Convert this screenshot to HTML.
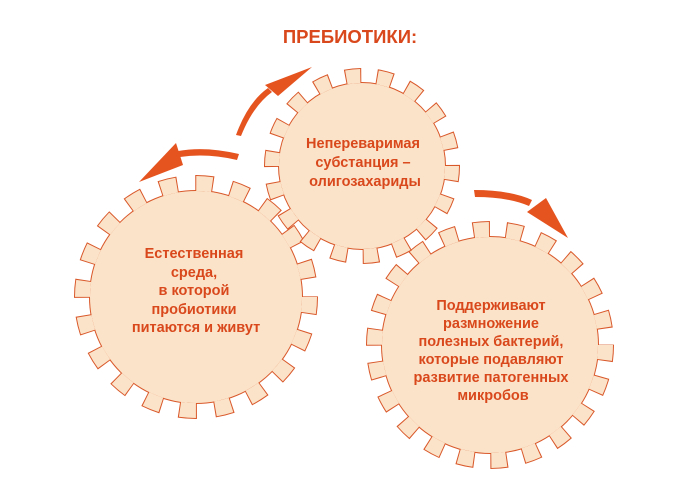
<!DOCTYPE html>
<html><head><meta charset="utf-8"><style>
body{margin:0;background:#fff;}
svg{display:block;}
text{font-family:"Liberation Sans",Arial,sans-serif;font-weight:bold;fill:#d9481c;text-anchor:middle;}
</style></head><body>
<svg width="700" height="487" viewBox="0 0 700 487" xmlns="http://www.w3.org/2000/svg">
<text x="350" y="43" font-size="18.5">ПРЕБИОТИКИ:</text>

<g>
<circle cx="196" cy="297" r="113.5" fill="none" stroke="#d9582a" stroke-width="17" stroke-dasharray="18 17.66" stroke-dashoffset="1"/>
<circle cx="196" cy="297" r="107" fill="#d9582a"/>
<circle cx="196" cy="297" r="113.5" fill="none" stroke="#fbe3c9" stroke-width="15" stroke-dasharray="16 19.66"/>
<circle cx="196" cy="297" r="106" fill="#fbe3c9"/>
</g>
<g>
<circle cx="490" cy="345" r="115.5" fill="none" stroke="#d9582a" stroke-width="17" stroke-dasharray="17 16" stroke-dashoffset="1"/>
<circle cx="490" cy="345" r="109" fill="#d9582a"/>
<circle cx="490" cy="345" r="115.5" fill="none" stroke="#fbe3c9" stroke-width="15" stroke-dasharray="15 18"/>
<circle cx="490" cy="345" r="108" fill="#fbe3c9"/>
</g>
<g>
<circle cx="362" cy="166" r="90" fill="none" stroke="#d9582a" stroke-width="16" stroke-dasharray="16 15.4" stroke-dashoffset="1"/>
<circle cx="362" cy="166" r="84" fill="#d9582a"/>
<circle cx="362" cy="166" r="90" fill="none" stroke="#fbe3c9" stroke-width="14" stroke-dasharray="14 17.4"/>
<circle cx="362" cy="166" r="83" fill="#fbe3c9"/>
</g>

<g fill="#e5531f" stroke="none">
<path d="M236,135 Q248,102 268,88 L272,92 Q253,106 241,136 Z"/>
<polygon points="312,67 265,85 278,96"/>
<path d="M239,154 Q205,146 178,151 L180,157 Q207,153 237,160 Z"/>
<polygon points="139,182 176,143 183,165"/>
<path d="M474,190 Q510,190 532,200 L529,206 Q508,197 475,197 Z"/>
<polygon points="568,238 527,212 546,198"/>
</g>

<text font-size="14.5">
<tspan x="365" y="148">Непереваримая</tspan>
<tspan x="365" y="167">субстанция –</tspan>
<tspan x="365" y="186">олигозахариды</tspan>
</text>
<text font-size="14.5">
<tspan x="196" y="258">Естественная</tspan>
<tspan x="196" y="277">среда,</tspan>
<tspan x="196" y="295">в которой</tspan>
<tspan x="196" y="314">пробиотики</tspan>
<tspan x="196" y="332">питаются и живут</tspan>
</text>
<text font-size="14.5">
<tspan x="493" y="310">Поддерживают</tspan>
<tspan x="493" y="328">размножение</tspan>
<tspan x="493" y="346">полезных бактерий,</tspan>
<tspan x="493" y="364">которые подавляют</tspan>
<tspan x="493" y="382">развитие патогенных</tspan>
<tspan x="493" y="400">микробов</tspan>
</text>
</svg>
</body></html>
